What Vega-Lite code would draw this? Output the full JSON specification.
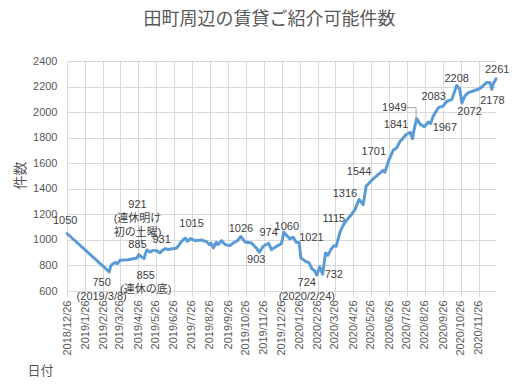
{
  "$schema": "https://vega.github.io/schema/vega-lite/v6.json",
  "width": 429,
  "height": 230,
  "autosize": "none",
  "padding": {"left": 67, "top": 61, "right": 31, "bottom": 101},
  "background": "white",
  "title": {
    "text": "田町周辺の賃貸ご紹介可能件数",
    "font": "Noto Sans CJK JP",
    "fontSize": 18,
    "fontWeight": "normal",
    "color": "#595959",
    "anchor": "middle",
    "frame": "group",
    "dx": -12,
    "offset": 26
  },
  "config": {
    "view": {"stroke": null},
    "font": "Liberation Sans"
  },
  "datasets": {
    "series": [
      {"date": "2018/12/26", "value": 1050},
      {"date": "2019/03/08", "value": 750},
      {"date": "2019/03/10", "value": 790},
      {"date": "2019/03/12", "value": 805},
      {"date": "2019/03/18", "value": 824},
      {"date": "2019/03/22", "value": 815},
      {"date": "2019/03/26", "value": 840},
      {"date": "2019/04/09", "value": 845},
      {"date": "2019/04/24", "value": 858},
      {"date": "2019/04/27", "value": 885},
      {"date": "2019/05/01", "value": 868},
      {"date": "2019/05/06", "value": 855},
      {"date": "2019/05/09", "value": 898},
      {"date": "2019/05/11", "value": 921},
      {"date": "2019/05/16", "value": 905},
      {"date": "2019/05/22", "value": 918},
      {"date": "2019/05/28", "value": 915},
      {"date": "2019/06/02", "value": 898},
      {"date": "2019/06/08", "value": 924},
      {"date": "2019/06/11", "value": 931},
      {"date": "2019/06/16", "value": 925},
      {"date": "2019/07/01", "value": 937},
      {"date": "2019/07/09", "value": 989},
      {"date": "2019/07/15", "value": 1015},
      {"date": "2019/07/19", "value": 989},
      {"date": "2019/07/24", "value": 1010},
      {"date": "2019/08/01", "value": 994},
      {"date": "2019/08/12", "value": 1000},
      {"date": "2019/08/21", "value": 984},
      {"date": "2019/08/25", "value": 963},
      {"date": "2019/08/28", "value": 975},
      {"date": "2019/09/01", "value": 937},
      {"date": "2019/09/06", "value": 981},
      {"date": "2019/09/09", "value": 963},
      {"date": "2019/09/15", "value": 994},
      {"date": "2019/09/21", "value": 963},
      {"date": "2019/09/29", "value": 955},
      {"date": "2019/10/05", "value": 976},
      {"date": "2019/10/12", "value": 994},
      {"date": "2019/10/18", "value": 1026},
      {"date": "2019/10/25", "value": 984},
      {"date": "2019/11/05", "value": 976},
      {"date": "2019/11/13", "value": 937},
      {"date": "2019/11/18", "value": 903},
      {"date": "2019/11/25", "value": 950},
      {"date": "2019/12/04", "value": 974},
      {"date": "2019/12/09", "value": 924},
      {"date": "2019/12/18", "value": 950},
      {"date": "2019/12/26", "value": 971},
      {"date": "2019/12/30", "value": 1060},
      {"date": "2020/01/09", "value": 1008},
      {"date": "2020/01/15", "value": 1021},
      {"date": "2020/01/20", "value": 981},
      {"date": "2020/01/25", "value": 978},
      {"date": "2020/01/28", "value": 859},
      {"date": "2020/02/05", "value": 832},
      {"date": "2020/02/11", "value": 820},
      {"date": "2020/02/16", "value": 772},
      {"date": "2020/02/20", "value": 760},
      {"date": "2020/02/24", "value": 724},
      {"date": "2020/02/29", "value": 790},
      {"date": "2020/03/05", "value": 732},
      {"date": "2020/03/10", "value": 898},
      {"date": "2020/03/14", "value": 880},
      {"date": "2020/03/19", "value": 924},
      {"date": "2020/03/24", "value": 955},
      {"date": "2020/03/28", "value": 950},
      {"date": "2020/04/04", "value": 1067},
      {"date": "2020/04/09", "value": 1115},
      {"date": "2020/04/14", "value": 1150},
      {"date": "2020/04/23", "value": 1198},
      {"date": "2020/04/29", "value": 1237},
      {"date": "2020/05/06", "value": 1316},
      {"date": "2020/05/13", "value": 1276},
      {"date": "2020/05/18", "value": 1420},
      {"date": "2020/05/30", "value": 1478},
      {"date": "2020/06/11", "value": 1525},
      {"date": "2020/06/16", "value": 1544},
      {"date": "2020/06/19", "value": 1530},
      {"date": "2020/06/25", "value": 1616},
      {"date": "2020/07/03", "value": 1701},
      {"date": "2020/07/09", "value": 1721},
      {"date": "2020/07/15", "value": 1773},
      {"date": "2020/07/19", "value": 1792},
      {"date": "2020/07/25", "value": 1825},
      {"date": "2020/08/01", "value": 1841},
      {"date": "2020/08/05", "value": 1792},
      {"date": "2020/08/07", "value": 1851},
      {"date": "2020/08/12", "value": 1949},
      {"date": "2020/08/18", "value": 1904},
      {"date": "2020/08/25", "value": 1886},
      {"date": "2020/09/01", "value": 1922},
      {"date": "2020/09/05", "value": 1912},
      {"date": "2020/09/09", "value": 1967},
      {"date": "2020/09/18", "value": 2035},
      {"date": "2020/09/26", "value": 2047},
      {"date": "2020/10/02", "value": 2083},
      {"date": "2020/10/11", "value": 2100},
      {"date": "2020/10/19", "value": 2208},
      {"date": "2020/10/24", "value": 2184},
      {"date": "2020/10/28", "value": 2072},
      {"date": "2020/11/02", "value": 2126},
      {"date": "2020/11/08", "value": 2152},
      {"date": "2020/11/16", "value": 2165},
      {"date": "2020/11/28", "value": 2185},
      {"date": "2020/12/09", "value": 2231},
      {"date": "2020/12/15", "value": 2231},
      {"date": "2020/12/18", "value": 2178},
      {"date": "2020/12/20", "value": 2217},
      {"date": "2020/12/25", "value": 2261}
    ],
    "notes": [
      {"date": "2018/12/23", "value": 1146, "t": "1050"},
      {"date": "2019/02/23", "value": 660, "t": "750\n(2019/3/8)"},
      {"date": "2019/04/25", "value": 963, "t": "885"},
      {"date": "2019/05/09", "value": 718, "t": "855\n(連休の底)"},
      {"date": "2019/04/25", "value": 1274, "t": "921\n(連休明け\n初の土曜)"},
      {"date": "2019/06/05", "value": 1002, "t": "931"},
      {"date": "2019/07/26", "value": 1128, "t": "1015"},
      {"date": "2019/10/18", "value": 1086, "t": "1026"},
      {"date": "2019/11/13", "value": 840, "t": "903"},
      {"date": "2019/12/04", "value": 1053, "t": "974"},
      {"date": "2020/01/04", "value": 1104, "t": "1060"},
      {"date": "2020/02/15", "value": 1018, "t": "1021"},
      {"date": "2020/02/07", "value": 663, "t": "724\n(2020/2/24)"},
      {"date": "2020/03/24", "value": 728, "t": "732"},
      {"date": "2020/03/24", "value": 1167, "t": "1115"},
      {"date": "2020/04/12", "value": 1363, "t": "1316"},
      {"date": "2020/05/06", "value": 1533, "t": "1544"},
      {"date": "2020/05/31", "value": 1690, "t": "1701"},
      {"date": "2020/07/08", "value": 1896, "t": "1841"},
      {"date": "2020/07/05", "value": 2035, "t": "1949"},
      {"date": "2020/09/29", "value": 1878, "t": "1967"},
      {"date": "2020/09/10", "value": 2121, "t": "2083"},
      {"date": "2020/10/19", "value": 2257, "t": "2208"},
      {"date": "2020/11/10", "value": 2000, "t": "2072"},
      {"date": "2020/12/19", "value": 2086, "t": "2178"},
      {"date": "2020/12/27", "value": 2327, "t": "2261"}
    ],
    "leaders": [
      {"g": "a", "k": 1, "date": "2019/04/27", "value": 1107},
      {"g": "a", "k": 2, "date": "2019/05/05", "value": 937},
      {"g": "b", "k": 1, "date": "2020/07/26", "value": 2035},
      {"g": "b", "k": 2, "date": "2020/08/11", "value": 2035},
      {"g": "b", "k": 3, "date": "2020/08/11", "value": 1956}
    ]
  },
  "encoding": {
    "x": {
      "field": "date",
      "type": "temporal",
      "title": "日付",
      "scale": {"domain": [{"year": 2018, "month": 12, "date": 26}, {"year": 2020, "month": 12, "date": 25}]},
      "axis": {
        "values": [
          {"year": 2018, "month": 12, "date": 26},
          {"year": 2019, "month": 1, "date": 26},
          {"year": 2019, "month": 2, "date": 26},
          {"year": 2019, "month": 3, "date": 26},
          {"year": 2019, "month": 4, "date": 26},
          {"year": 2019, "month": 5, "date": 26},
          {"year": 2019, "month": 6, "date": 26},
          {"year": 2019, "month": 7, "date": 26},
          {"year": 2019, "month": 8, "date": 26},
          {"year": 2019, "month": 9, "date": 26},
          {"year": 2019, "month": 10, "date": 26},
          {"year": 2019, "month": 11, "date": 26},
          {"year": 2019, "month": 12, "date": 26},
          {"year": 2020, "month": 1, "date": 26},
          {"year": 2020, "month": 2, "date": 26},
          {"year": 2020, "month": 3, "date": 26},
          {"year": 2020, "month": 4, "date": 26},
          {"year": 2020, "month": 5, "date": 26},
          {"year": 2020, "month": 6, "date": 26},
          {"year": 2020, "month": 7, "date": 26},
          {"year": 2020, "month": 8, "date": 26},
          {"year": 2020, "month": 9, "date": 26},
          {"year": 2020, "month": 10, "date": 26},
          {"year": 2020, "month": 11, "date": 26}
        ],
        "format": "%Y/%-m/%-d",
        "labelAngle": -90,
        "labelFont": "Liberation Sans",
        "labelFontSize": 11,
        "labelColor": "#595959",
        "labelPadding": 4,
        "labelFlush": false,
        "labelOverlap": false,
        "labelBound": false,
        "tickSize": 5,
        "tickColor": "#d9d9d9",
        "domainColor": "#d9d9d9",
        "grid": true,
        "gridColor": "#d9d9d9",
        "titleFont": "Noto Sans CJK JP",
        "titleFontSize": 13,
        "titleFontWeight": "normal",
        "titleColor": "#595959",
        "titleAngle": 0,
        "titleAlign": "center",
        "titleBaseline": "middle",
        "titleX": -27,
        "titleY": 79
      }
    },
    "y": {
      "field": "value",
      "type": "quantitative",
      "title": "件数",
      "scale": {"domain": [600, 2400], "nice": false, "zero": false},
      "axis": {
        "values": [600, 800, 1000, 1200, 1400, 1600, 1800, 2000, 2200, 2400],
        "format": "d",
        "labelFont": "Liberation Sans",
        "labelFontSize": 11,
        "labelColor": "#595959",
        "labelPadding": 10,
        "ticks": false,
        "domain": false,
        "grid": true,
        "gridColor": "#d9d9d9",
        "titleFont": "Noto Sans CJK JP",
        "titleFontSize": 14,
        "titleFontWeight": "normal",
        "titleColor": "#595959",
        "titleAngle": -90,
        "titleAlign": "center",
        "titleBaseline": "middle",
        "titleX": -47,
        "titleY": 114
      }
    }
  },
  "layer": [
    {
      "data": {"name": "series"},
      "mark": {"type": "line", "color": "#5b9bd5", "strokeWidth": 3, "strokeJoin": "round", "strokeCap": "round"}
    },
    {
      "data": {"name": "leaders"},
      "mark": {"type": "line", "color": "#a6a6a6", "strokeWidth": 1},
      "encoding": {
        "detail": {"field": "g"},
        "order": {"field": "k"}
      }
    },
    {
      "data": {"name": "notes"},
      "mark": {
        "type": "text",
        "lineBreak": "\n",
        "lineHeight": 14,
        "font": "Liberation Sans, Noto Sans CJK JP",
        "fontSize": 11,
        "color": "#404040",
        "align": "center",
        "baseline": "middle"
      },
      "encoding": {
        "text": {"field": "t"}
      }
    }
  ]
}
